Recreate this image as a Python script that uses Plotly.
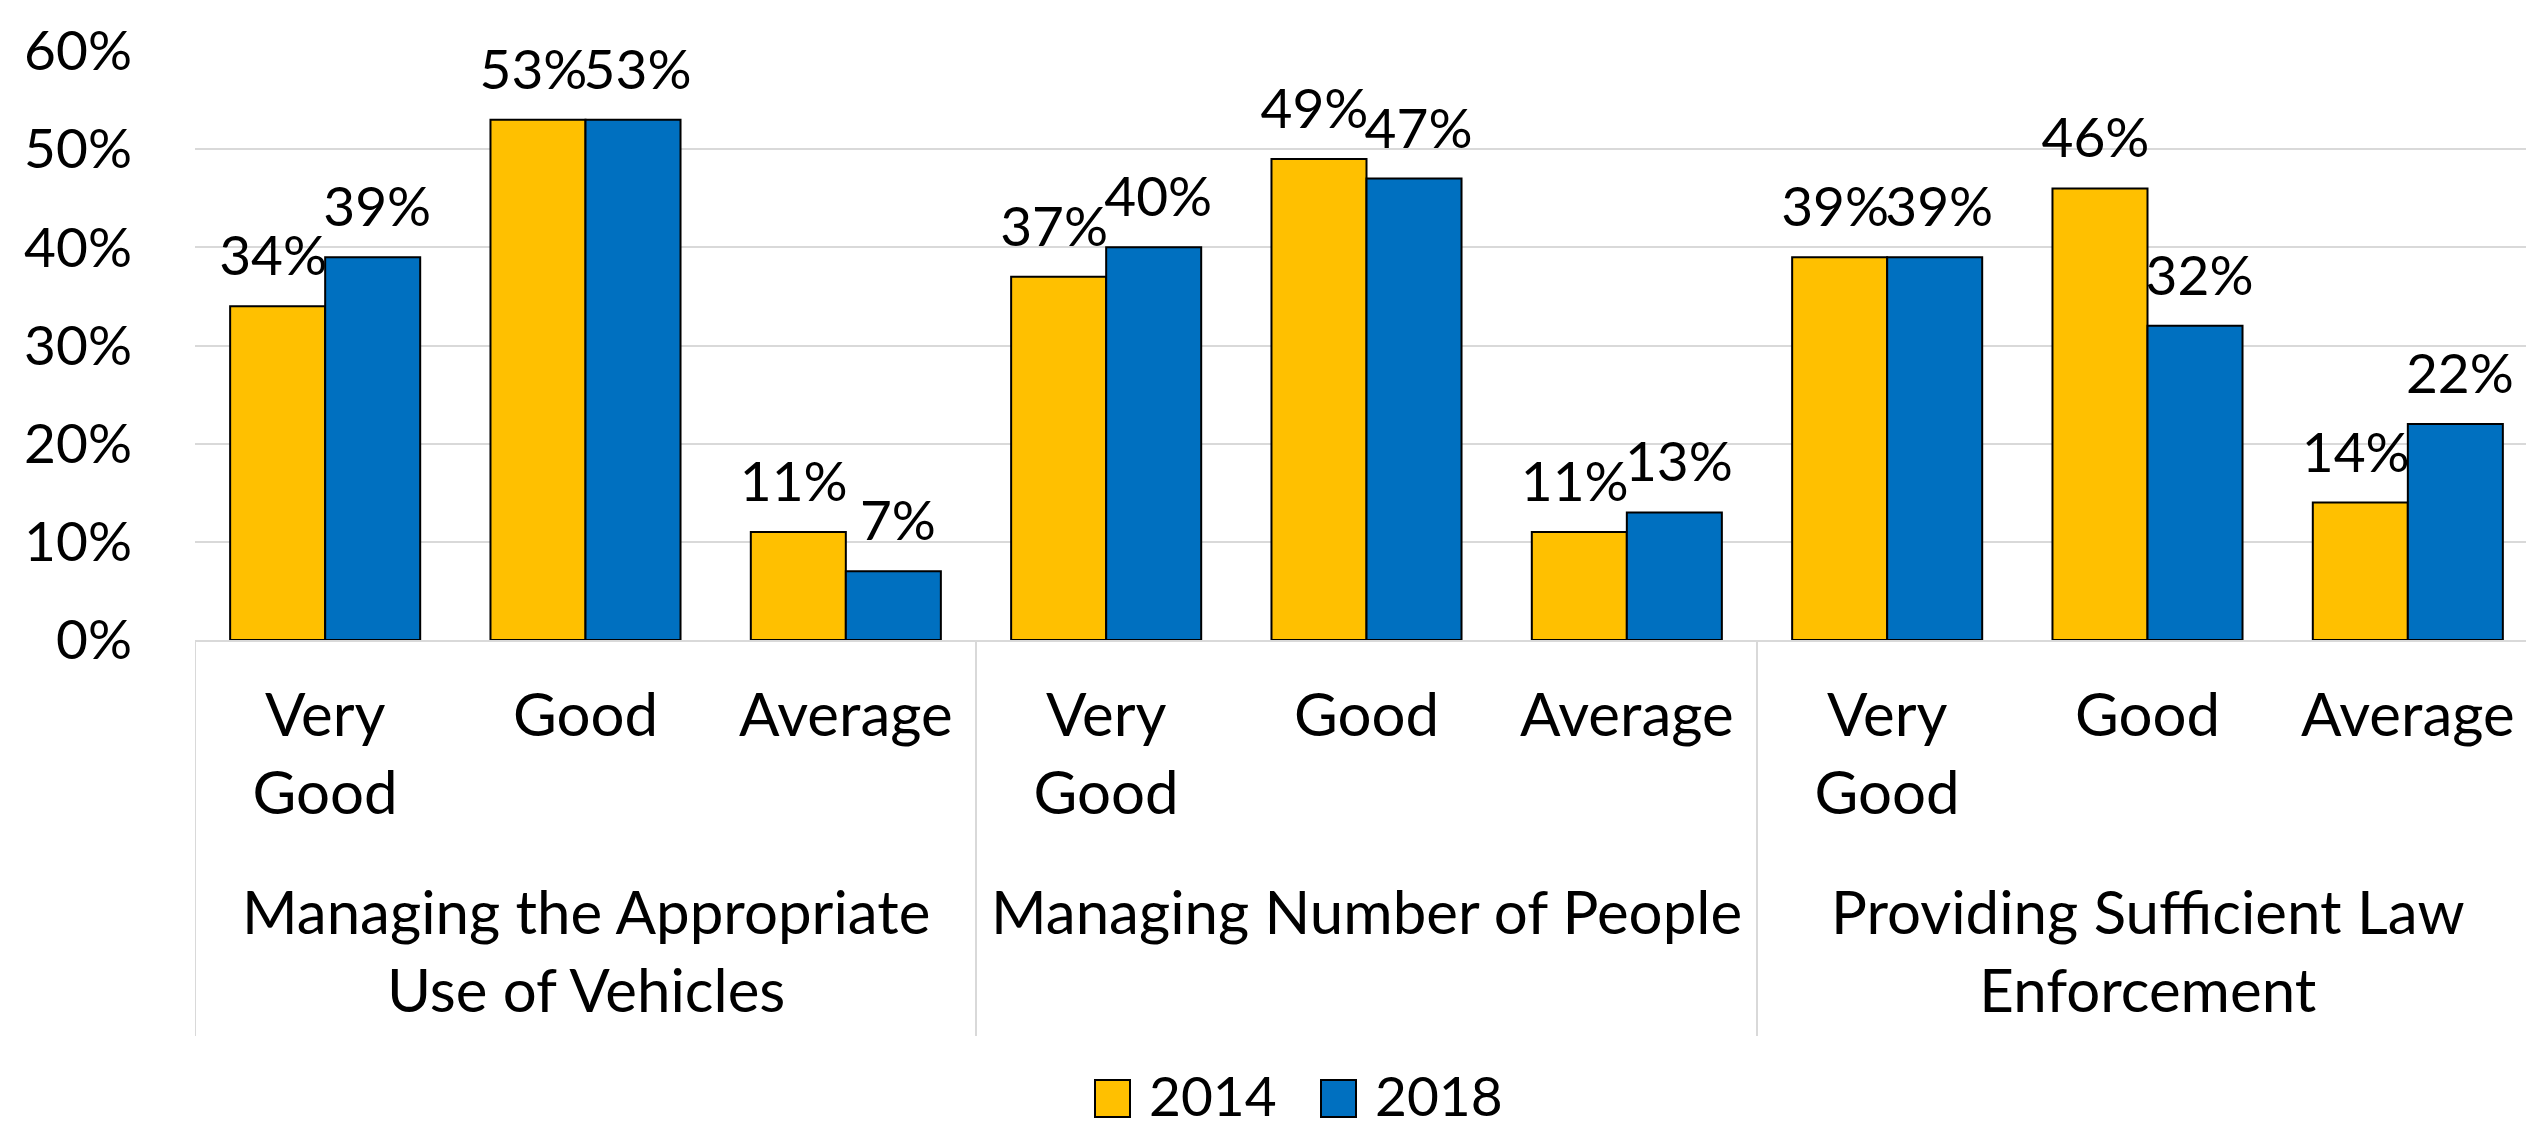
import plotly.graph_objects as go

groups = ["Managing the Appropriate<br>Use of Vehicles", "Managing Number of People", "Providing Sufficient Law<br>Enforcement"]
cats = ["Very<br>Good", "Good", "Average"]
years = ["2014", "2018"]
v2014 = [34, 53, 11, 37, 49, 11, 39, 46, 14]
v2018 = [39, 53, 7, 40, 47, 13, 39, 32, 22]
colors = ["#FFC000", "#0070C0"]
yticks = [0, 10, 20, 30, 40, 50, 60]

FONT = "Lato"
FS = 60      # word labels
FN = 55      # numeric labels
W, H = 2534, 1124
ML, MR, MT, MB = 187, 4, 43, 492
PW, PH = W - ML - MR, H - MT - MB

# unique category keys (group | category), shown with the short category label
keys = [f"{g}|{c}" for g in groups for c in cats]
labels = [c for _ in groups for c in cats]

def py(ypix):
    """paper y from a pixel row of the page"""
    return (H - MB - ypix) / PH

def px(xpix):
    return (xpix - ML) / PW

fig = go.Figure()
for name, vals, col in zip(years, [v2014, v2018], colors):
    fig.add_trace(go.Bar(x=keys, y=vals, name=name,
                         marker=dict(color=col, line=dict(color="black", width=2)),
                         showlegend=False, hoverinfo="skip"))
for name, vals in zip(years, [v2014, v2018]):
    fig.add_trace(go.Scatter(x=keys, y=vals, mode="markers+text", text=[f"{v}%" for v in vals],
                             textposition="top center", textfont=dict(family=FONT, size=FN, color="black"),
                             marker=dict(size=26, color="rgba(0,0,0,0)"), showlegend=False, cliponaxis=False,
                             hoverinfo="skip"))

fig.update_layout(
    width=W, height=H,
    margin=dict(l=ML, r=MR, t=MT, b=MB),
    plot_bgcolor="white", paper_bgcolor="white",
    barmode="group", bargap=0.27, bargroupgap=0,
    scattermode="group", scattergap=0.2,
    font=dict(family=FONT, size=FS, color="black"),
)
fig.update_yaxes(range=[0, 60], tickvals=yticks, ticktext=[f"{t}%" for t in yticks], showgrid=True,
                 gridcolor="#D9D9D9", gridwidth=2, zeroline=False, showline=False, ticks="",
                 tickfont=dict(size=FN), ticklabelstandoff=62)
fig.update_xaxes(type="category", tickvals=keys, ticktext=labels, showline=True, linecolor="#D9D9D9",
                 linewidth=2, ticks="", tickfont=dict(size=FS), showgrid=False, ticklabelstandoff=22,
                 range=[-0.5, len(keys) - 0.5])

# group labels and dividers
n = len(cats)
for i, g in enumerate(groups):
    fig.add_annotation(text=g, xref="x", yref="paper", x=keys[i * n + n // 2], y=py(865),
                       xanchor="center", yanchor="top", showarrow=False, font=dict(family=FONT, size=FS))
for j in range(len(groups) + 1):
    fig.add_shape(type="line", xref="x", yref="paper", x0=j * n - 0.5, x1=j * n - 0.5,
                  y0=0, y1=py(1028), line=dict(color="#D9D9D9", width=2))

# legend (square keys as in the original)
legend_x = [1087, 1313]
for i, (name, col) in enumerate(zip(years, colors)):
    x0 = legend_x[i]
    fig.add_shape(type="rect", xref="paper", yref="paper",
                  x0=px(x0), x1=px(x0 + 35), y0=py(1109), y1=py(1072),
                  fillcolor=col, line=dict(color="black", width=2))
    fig.add_annotation(text=name, xref="paper", yref="paper", x=px(x0 + 52), y=py(1087),
                       xanchor="left", yanchor="middle", showarrow=False, font=dict(family=FONT, size=FN))

fig.write_html("out.html")
